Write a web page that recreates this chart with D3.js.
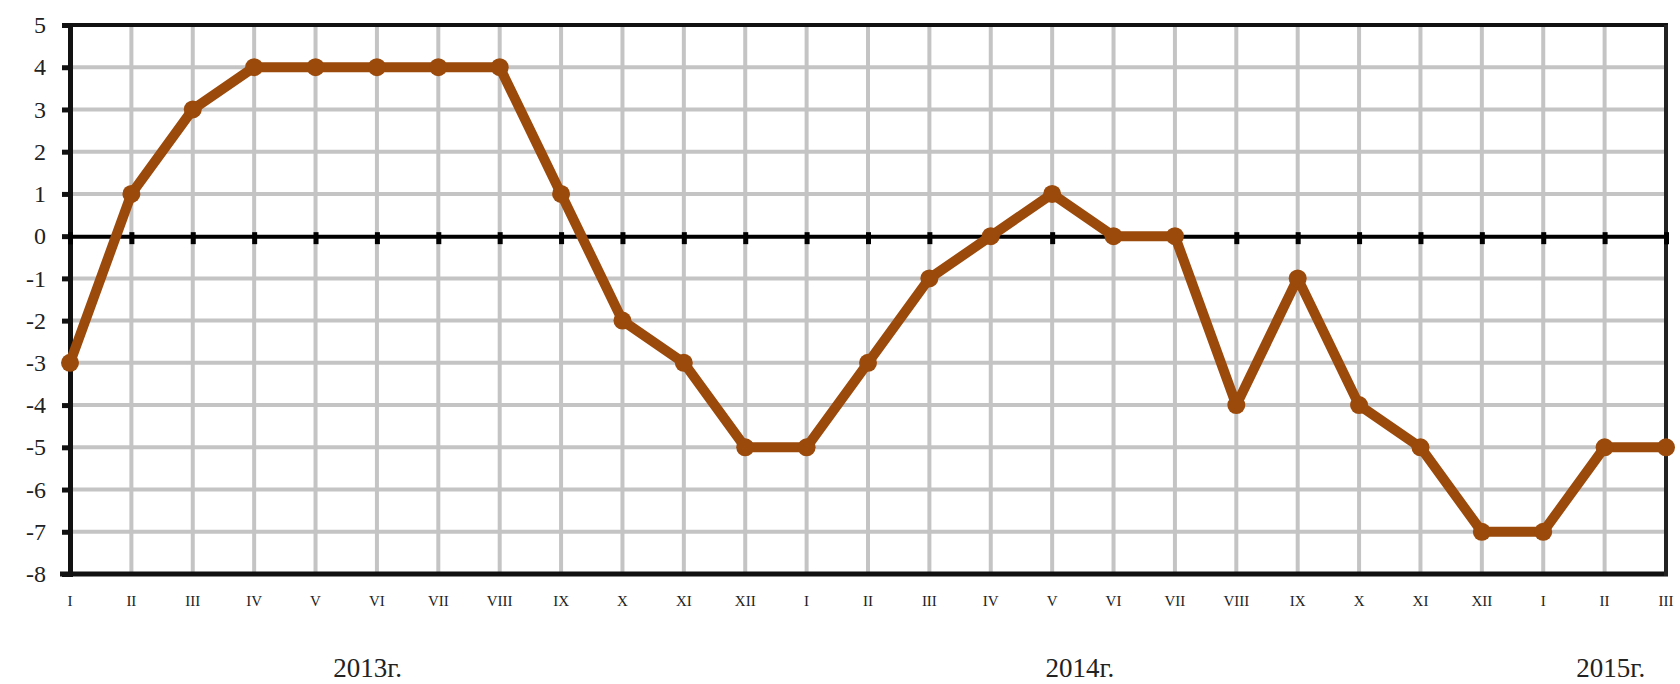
<!DOCTYPE html>
<html>
<head>
<meta charset="utf-8">
<script src="https://cdn.jsdelivr.net/npm/d3@7"></script>
<style>
  html, body { margin: 0; padding: 0; background: #fff; }
  svg { display: block; }
  text { font-family: "Liberation Serif", "DejaVu Serif", serif; fill: #222; }
</style>
</head>
<body>
<svg id="chart" width="1680" height="684"></svg>
<script>
// Data
const months = ["I","II","III","IV","V","VI","VII","VIII","IX","X","XI","XII",
                "I","II","III","IV","V","VI","VII","VIII","IX","X","XI","XII",
                "I","II","III"];
const values = [-3, 1, 3, 4, 4, 4, 4, 4, 1, -2, -3, -5,
                -5, -3, -1, 0, 1, 0, 0, -4, -1, -4, -5, -7,
                -7, -5, -5];
const yTicks = [5, 4, 3, 2, 1, 0, -1, -2, -3, -4, -5, -6, -7, -8];
const years = [
  { label: "2013г.", at: 4.85 },
  { label: "2014г.", at: 16.45 },
  { label: "2015г.", at: 25.1 }
];

(function () {
const svg = d3.select("#chart");
const mL = 70, mR = 1666, mT = 25, mB = 574;
const idx = d3.range(months.length);

const x = d3.scaleLinear().domain([0, months.length - 1]).range([mL, mR]);
const y = d3.scaleLinear().domain([-8, 5]).range([mB, mT]);

// grid
const grid = svg.append("g");
grid.selectAll("line.h").data(yTicks.filter(d => d !== 0 && d !== 5 && d !== -8)).join("line")
  .attr("x1", mL).attr("x2", mR)
  .attr("y1", d => y(d)).attr("y2", d => y(d))
  .attr("stroke", "#c4c4c4").attr("stroke-width", 4);
grid.selectAll("line.v").data(idx.slice(1, -1)).join("line")
  .attr("x1", d => x(d)).attr("x2", d => x(d))
  .attr("y1", mT).attr("y2", mB)
  .attr("stroke", "#c4c4c4").attr("stroke-width", 4);

// frame
svg.append("line").attr("x1", mL - 2).attr("x2", mR + 2).attr("y1", y(5)).attr("y2", y(5))
  .attr("stroke", "#111").attr("stroke-width", 4);
svg.append("line").attr("x1", mL - 10).attr("x2", mR + 2).attr("y1", y(-8)).attr("y2", y(-8))
  .attr("stroke", "#111").attr("stroke-width", 5);
svg.append("line").attr("x1", mR).attr("x2", mR).attr("y1", mT).attr("y2", mB + 2)
  .attr("stroke", "#222").attr("stroke-width", 4);

// y axis
const yAxis = d3.axisLeft(y).tickValues(yTicks).tickSize(8).tickPadding(20).tickFormat(d3.format("d"));
const ya = svg.append("g").attr("transform", `translate(${mL},0)`).call(yAxis);
ya.select(".domain").attr("stroke", "#111").attr("stroke-width", 5);
ya.selectAll(".tick line").attr("stroke", "#111").attr("stroke-width", 5);
ya.selectAll(".tick text").attr("font-size", 24).attr("fill", "#222")
  .attr("font-family", "Liberation Serif, serif").attr("dx", 4)
  .text(d => d < 0 ? "-" + Math.abs(d) : d);

// zero axis with ticks
const zAxis = d3.axisBottom(x).tickValues(idx).tickSize(8).tickFormat("");
const za = svg.append("g").attr("transform", `translate(0,${y(0)})`).call(zAxis);
za.select(".domain").attr("stroke", "#000").attr("stroke-width", 4);
za.selectAll(".tick line").attr("stroke", "#000").attr("stroke-width", 5).attr("y1", -4);

// month labels
svg.append("g").selectAll("text").data(idx).join("text")
  .attr("x", d => x(d)).attr("y", 606)
  .attr("text-anchor", "middle").attr("font-size", 15).attr("fill", "#333")
  .text(d => months[d]);

// year labels
svg.append("g").selectAll("text").data(years).join("text")
  .attr("x", d => x(d.at)).attr("y", 677)
  .attr("text-anchor", "middle").attr("font-size", 27).attr("fill", "#222")
  .text(d => d.label);

// series
const color = "#9b4a0b";
const line = d3.line().x((d, i) => x(i)).y(d => y(d));
svg.append("path").datum(values).attr("d", line)
  .attr("fill", "none").attr("stroke", color).attr("stroke-width", 10)
  .attr("stroke-linejoin", "round");
svg.append("g").selectAll("circle").data(values).join("circle")
  .attr("cx", (d, i) => x(i)).attr("cy", d => y(d)).attr("r", 9)
  .attr("fill", color);
})();
</script>
</body>
</html>
